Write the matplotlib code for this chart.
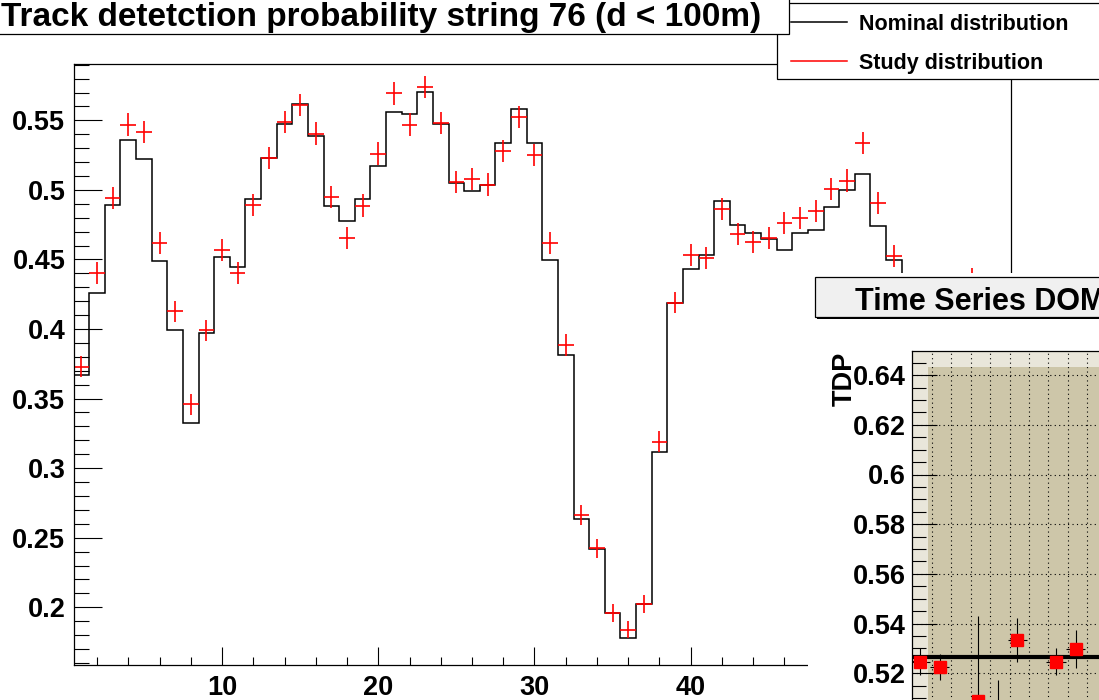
import numpy as np
import matplotlib
matplotlib.use("Agg")
import matplotlib.pyplot as plt
from matplotlib.patches import Rectangle
from matplotlib.lines import Line2D
from matplotlib.ticker import MultipleLocator, FormatStrFormatter

plt.rcParams['font.family'] = ['Liberation Sans', 'DejaVu Sans']
plt.rcParams['font.weight'] = 'bold'

# main histogram, string 76 (bins = DOM 1..54, rest hidden under the inset)
nominal = [0.367, 0.426, 0.489, 0.536, 0.5225, 0.449, 0.3995, 0.3324, 0.397, 0.452,
           0.4446, 0.4935, 0.523, 0.5475, 0.562, 0.5386, 0.4887, 0.4774, 0.4935, 0.5175,
           0.5558, 0.5547, 0.5702, 0.5475, 0.505, 0.4995, 0.5033, 0.5338, 0.5578, 0.5338,
           0.4494, 0.381, 0.2633, 0.2422, 0.1957, 0.1777, 0.2022, 0.3115, 0.419, 0.4434,
           0.4535, 0.4918, 0.475, 0.4691, 0.465, 0.457, 0.469, 0.4714, 0.4875, 0.4997,
           0.5117, 0.4738, 0.4499, 0.42]
study_dom = list(range(1, 54)) + [58]
study = [0.373, 0.440, 0.494, 0.547, 0.5414, 0.4619, 0.4127, 0.346, 0.399, 0.457,
         0.4403, 0.4894, 0.523, 0.5487, 0.5609, 0.5405, 0.4947, 0.4655, 0.4887, 0.5261,
         0.5693, 0.547, 0.5738, 0.5482, 0.5055, 0.5081, 0.5038, 0.5278, 0.5522, 0.5249,
         0.4619, 0.3885, 0.2664, 0.2424, 0.1957, 0.1837, 0.2022, 0.3191, 0.419, 0.4535,
         0.4511, 0.4863, 0.4686, 0.4623, 0.4651, 0.4763, 0.4799, 0.4846, 0.5007, 0.5067,
         0.5338, 0.4906, 0.4522, 0.436]
study_err = [0.0077, 0.0079, 0.008, 0.008, 0.008, 0.0079, 0.0078, 0.0076, 0.0078, 0.0079,
             0.0079, 0.008, 0.008, 0.008, 0.008, 0.008, 0.008, 0.008, 0.008, 0.008,
             0.008, 0.008, 0.008, 0.008, 0.008, 0.008, 0.008, 0.008, 0.008, 0.008,
             0.0079, 0.0077, 0.007, 0.0068, 0.0063, 0.0061, 0.0064, 0.0074, 0.0078, 0.0079,
             0.0079, 0.008, 0.0079, 0.0079, 0.0079, 0.0079, 0.0079, 0.008, 0.008, 0.008,
             0.008, 0.008, 0.0079, 0.0079]

# inset: time series of one DOM
ts_x = [0.4, 1.4, 3.4, 4.4, 5.4, 7.4, 8.4]
ts_y = [0.5247, 0.5227, 0.509, 0.500, 0.5334, 0.5247, 0.5297]
ts_err = [0.0054, 0.0052, 0.034, 0.0173, 0.009, 0.0054, 0.0076]
ts_mean = 0.5264
ts_grid = list(range(1, 18))

title = "Track detetction probability string 76 (d < 100m)"
leg_labels = ["Nominal distribution", "Study distribution"]

W, H = 1099, 700
def fx(p):
    return p / W
def fy(p):
    return 1 - p / H

fig = plt.figure(figsize=(W / 100, H / 100), dpi=100)
fig.patch.set_facecolor('white')

# ---- main pad
ax = fig.add_axes([fx(73.6), fy(665), (1011 - 73.6) / W, (665 - 64) / H])
edges = np.arange(0.5, len(nominal) + 1, 1.0)
ax.stairs(nominal, edges, baseline=None, color='black', lw=1.1)
ax.errorbar(study_dom, study, xerr=0.5, yerr=study_err, fmt='none',
            ecolor='red', elinewidth=1.2, capsize=0)
ax.set_xlim(0.5, 60.5)
ax.set_ylim(0.1585, 0.5905)
ax.xaxis.set_major_locator(MultipleLocator(10))
ax.xaxis.set_minor_locator(MultipleLocator(2))
ax.yaxis.set_major_locator(MultipleLocator(0.05))
ax.yaxis.set_minor_locator(MultipleLocator(0.01))
ax.yaxis.set_major_formatter(FormatStrFormatter('%g'))
ax.tick_params(axis='y', which='major', direction='in', length=20, width=0.8, labelsize=19.5, pad=6)
ax.tick_params(axis='y', which='minor', direction='in', length=10.8, width=0.8)
ax.tick_params(axis='x', which='major', direction='in', length=13, width=0.8, labelsize=19.5, pad=7)
ax.tick_params(axis='x', which='minor', direction='in', length=6, width=0.8)
for s in ax.spines.values():
    s.set_linewidth(0.9)

# ---- legend box
fig.add_artist(Rectangle((fx(777), fy(79)), (1120 - 777) / W, (79 - 3) / H,
                         transform=fig.transFigure, fc='white', ec='black', lw=0.9, zorder=1))
for yy, col, lab in [(22, 'black', leg_labels[0]), (61, 'red', leg_labels[1])]:
    fig.add_artist(Line2D([fx(791), fx(847)], [fy(yy), fy(yy)], color=col, lw=1.1,
                          transform=fig.transFigure, zorder=1.1))
    fig.text(fx(859), fy(yy + 8.5), lab, fontsize=15.5, ha='left', va='baseline', zorder=1.1)

# ---- title box
fig.add_artist(Rectangle((fx(-5), fy(34)), (789 + 5) / W, (34 + 5) / H,
                         transform=fig.transFigure, fc='white', ec='black', lw=0.9, zorder=1.5))
fig.text(fx(1), fy(26), title, fontsize=24, ha='left', va='baseline', zorder=1.6)

# ---- inset pad
fig.add_artist(Rectangle((fx(808), fy(720)), (1120 - 808) / W, (720 - 273) / H,
                         transform=fig.transFigure, fc='white', ec='none', zorder=2))
fig.add_artist(Rectangle((fx(817), fy(319)), (1130 - 817) / W, (319 - 279) / H,
                         transform=fig.transFigure, fc='black', ec='none', zorder=2.1))
fig.add_artist(Rectangle((fx(815), fy(316.5)), (1130 - 815) / W, (316.5 - 277) / H,
                         transform=fig.transFigure, fc='#f0f0f0', ec='black', lw=0.9, zorder=2.2))
fig.text(fx(855), fy(310), "Time Series DOM", fontsize=22, ha='left', va='baseline', zorder=2.3)

ax2 = fig.add_axes([fx(911.7), fy(780), (1250 - 911.7) / W, (780 - 351) / H])
ax2.set_zorder(3)
ax2.set_facecolor('#e9e6da')
ax2.add_patch(Rectangle((16 / 338.3, 0), 1.2, (780 - 366.7) / 429, transform=ax2.transAxes,
                        fc='#cdc6a9', ec='none', zorder=0.1))
ax2.set_axisbelow(True)
ax2.set_xlim(-0.03, -0.03 + (1250 - 911.7) / 19.45)
ax2.set_ylim(0.52 - (780 - 673.3) / 2485, 0.52 + (673.3 - 351) / 2485)
ax2.set_xticks(ts_grid)
ax2.tick_params(axis='x', length=0, labelbottom=False)
ax2.yaxis.set_major_locator(MultipleLocator(0.02))
ax2.yaxis.set_minor_locator(MultipleLocator(0.005))
ax2.yaxis.set_major_formatter(FormatStrFormatter('%g'))
ax2.tick_params(axis='y', which='major', direction='in', length=18, width=0.8, labelsize=19.5, pad=4.3)
ax2.tick_params(axis='y', which='minor', direction='in', length=10, width=0.8)
ax2.grid(True, which='major', color='black', linestyle=(0, (1, 3)), linewidth=0.8)
for s in ax2.spines.values():
    s.set_linewidth(0.9)
ax2.axhline(ts_mean, color='black', lw=3, zorder=2.5)
ax2.errorbar(ts_x, ts_y, xerr=0.5, yerr=ts_err, fmt='s', color='red', mec='red',
             ms=8.6, ecolor='black', elinewidth=0.8, capsize=0, zorder=3)
fig.text(fx(845), fy(352), "TDP", fontsize=19.5, rotation=90, ha='center', va='top', zorder=3.5)

fig.savefig("out.png", dpi=100)
